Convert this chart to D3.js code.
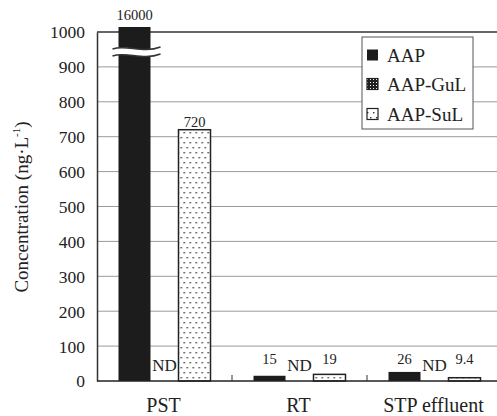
<!DOCTYPE html>
<html><head><meta charset="utf-8">
<script src="https://cdn.jsdelivr.net/npm/d3@7"></script>
<style>
html,body{margin:0;padding:0;background:#fff;}
svg{display:block;}
text{font-family:"Liberation Serif","Times New Roman",serif;fill:#222;}
</style></head>
<body>
<svg id="chart" width="497" height="416"></svg>
<script>
const categories = ["PST", "RT", "STP effluent"];
const seriesNames = ["AAP", "AAP-GuL", "AAP-SuL"];
const aapValues = [16000, 15, 26];
const gulValues = [null, null, null];      // ND (not detected)
const sulValues = [720, 19, 9.4];
const valueLabels = [["16000", "ND", "720"], ["15", "ND", "19"], ["26", "ND", "9.4"]];
const yTicks = [0, 100, 200, 300, 400, 500, 600, 700, 800, 900, 1000];

const svg = d3.select("#chart");
const mLeft = 97, mRight = 502, mTop = 32, mBottom = 381;

const x = d3.scaleBand().domain(categories).range([mLeft, mRight]).padding(0);
const y = d3.scaleLinear().domain([0, 1000]).range([mBottom, mTop]);
const x1 = d3.scalePoint().domain(seriesNames).range([-30, 30]);
const barW = 32;

const defs = svg.append("defs");
const pS = defs.append("pattern").attr("id", "sul").attr("patternUnits", "userSpaceOnUse")
  .attr("width", 6).attr("height", 10);
pS.append("rect").attr("width", 6).attr("height", 10).attr("fill", "#fff");
pS.append("rect").attr("x", 1).attr("y", 2).attr("width", 1.4).attr("height", 1.4).attr("fill", "#333");
pS.append("rect").attr("x", 4).attr("y", 7).attr("width", 1.4).attr("height", 1.4).attr("fill", "#333");
const pG = defs.append("pattern").attr("id", "gul").attr("patternUnits", "userSpaceOnUse")
  .attr("width", 3).attr("height", 3);
pG.append("rect").attr("width", 3).attr("height", 3).attr("fill", "#222");
pG.append("rect").attr("x", 1).attr("y", 1).attr("width", 1).attr("height", 1).attr("fill", "#fff");

const fills = {"AAP": "#1c1c1c", "AAP-GuL": "url(#gul)", "AAP-SuL": "url(#sul)"};

// gridlines
svg.append("g").selectAll("line").data(yTicks.filter(t => t > 0 && t < 1000)).join("line")
  .attr("x1", mLeft).attr("x2", 497).attr("y1", d => y(d)).attr("y2", d => y(d))
  .attr("stroke", "#9a9a9a").attr("stroke-width", 1);
// top frame line
svg.append("line").attr("x1", mLeft).attr("x2", 497).attr("y1", y(1000)).attr("y2", y(1000))
  .attr("stroke", "#333").attr("stroke-width", 1.5);

// y axis
const yAxis = svg.append("g").attr("transform", `translate(${mLeft},0)`)
  .call(d3.axisLeft(y).tickValues(yTicks).tickSize(0).tickPadding(12).tickFormat(d3.format("d")));
yAxis.attr("font-family", null);
yAxis.select(".domain").attr("stroke", "#333").attr("stroke-width", 1.5);
yAxis.selectAll("text").attr("font-size", 17.5).attr("fill", "#222")
  .attr("dy", "0.34em");

// bars
const rows = categories.map((c, i) => ({cat: c, vals: [aapValues[i], gulValues[i], sulValues[i]], labels: valueLabels[i]}));
const groups = svg.append("g").selectAll("g").data(rows).join("g")
  .attr("transform", d => `translate(${x(d.cat) + x.bandwidth() / 2},0)`);

groups.each(function(row) {
  const g = d3.select(this);
  row.vals.forEach((v, j) => {
    const name = seriesNames[j];
    const cx = x1(name);
    if (v !== null) {
      const yt = Math.max(y(v), y(1000) - 5);
      g.append("rect").attr("x", cx - barW / 2).attr("y", yt).attr("width", barW).attr("height", y(0) - yt)
        .attr("fill", fills[name])
        .attr("stroke", j === 0 ? "none" : "#222").attr("stroke-width", 1.5);
      const ly = v > 1000 ? y(1000) - 12 : Math.min(y(v) - 3, y(0) - 17);
      g.append("text").attr("x", cx).attr("y", ly).attr("text-anchor", "middle")
        .attr("font-size", 14.5).attr("fill", "#2a2a35").text(row.labels[j]);
      if (v > 1000) {
        // axis break mark
        const b = y(1000) + 19;
        const x0 = cx - 22, xe = cx + 26;
        const up = `M${x0},${b - 2} C${x0 + 14},${b - 7} ${x0 + 30},${b + 3} ${xe},${b - 4}`;
        const lo = `M${x0},${b + 5} C${x0 + 14},${b} ${x0 + 30},${b + 10} ${xe},${b + 3}`;
        g.append("path").attr("d", up + ` L${xe},${b + 3} C${x0 + 30},${b + 10} ${x0 + 14},${b} ${x0},${b + 5} Z`)
          .attr("fill", "#fff");
        g.append("path").attr("d", up).attr("fill", "none").attr("stroke", "#333").attr("stroke-width", 1.5);
        g.append("path").attr("d", lo).attr("fill", "none").attr("stroke", "#333").attr("stroke-width", 1.5);
      }
    } else {
      g.append("text").attr("x", cx).attr("y", y(0) - 10).attr("text-anchor", "middle")
        .attr("font-size", 17).attr("fill", "#222").text(row.labels[j]);
    }
  });
});

// x axis
svg.append("line").attr("x1", mLeft).attr("x2", 497).attr("y1", y(0)).attr("y2", y(0))
  .attr("stroke", "#222").attr("stroke-width", 1.5);
svg.append("g").selectAll("line").data(categories.slice(1)).join("line")
  .attr("x1", d => x(d)).attr("x2", d => x(d)).attr("y1", y(0)).attr("y2", y(0) - 6)
  .attr("stroke", "#333").attr("stroke-width", 1);
svg.append("g").selectAll("text").data(categories).join("text")
  .attr("x", d => x(d) + x.bandwidth() / 2 - 1).attr("y", 412).attr("text-anchor", "middle")
  .attr("font-size", 20).text(d => d);

// y label
const yl = svg.append("text").attr("transform", `translate(28,207) rotate(-90)`)
  .attr("text-anchor", "middle").attr("font-size", 19);
yl.append("tspan").text("Concentration (ng·L");
yl.append("tspan").attr("font-size", 11).attr("dy", -8).text("-1");
yl.append("tspan").attr("dy", 8).text(")");

// legend
const lg = svg.append("g");
lg.append("rect").attr("x", 362).attr("y", 37).attr("width", 111).attr("height", 92)
  .attr("fill", "#fff").attr("stroke", "#555").attr("stroke-width", 1);
const ly0 = [55, 84, 114];
seriesNames.forEach((n, i) => {
  lg.append("rect").attr("x", 367).attr("y", ly0[i] - 5.5).attr("width", 11).attr("height", 11)
    .attr("fill", fills[n]).attr("stroke", "#222").attr("stroke-width", i === 0 ? 0 : 1.2);
  lg.append("text").attr("x", 387).attr("y", ly0[i] + 6.5).attr("font-size", 19).text(n);
});
</script>
</body></html>
